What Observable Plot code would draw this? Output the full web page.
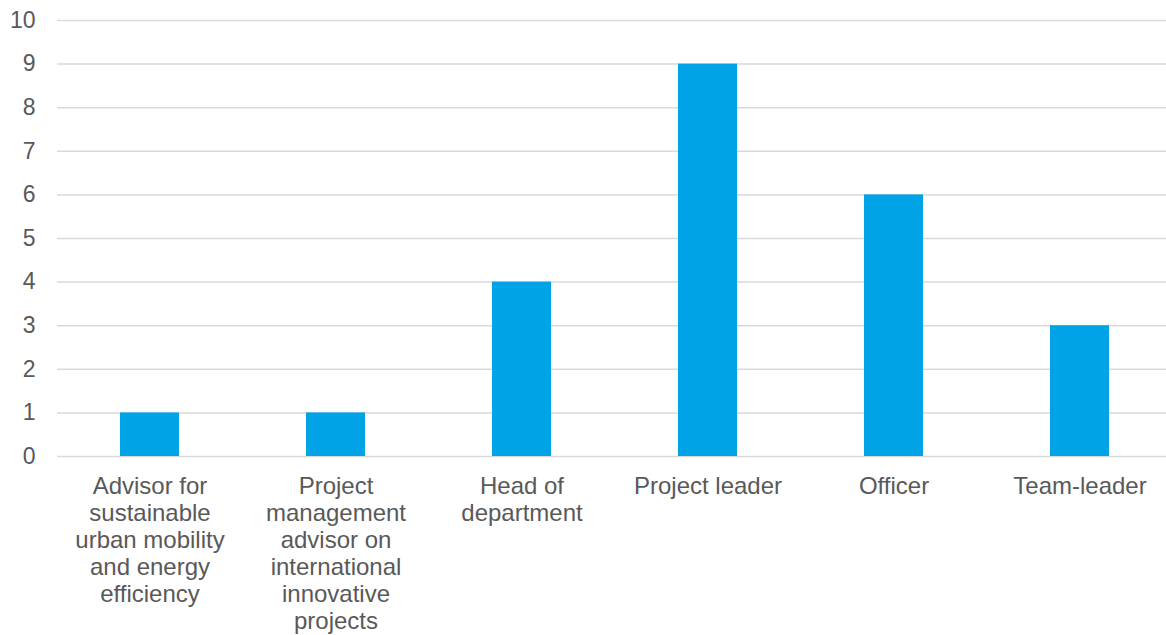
<!DOCTYPE html>
<html>
<head>
<meta charset="utf-8">
<script src="https://cdn.jsdelivr.net/npm/d3@7"></script>
<script src="https://cdn.jsdelivr.net/npm/@observablehq/plot@0.6"></script>
<style>
  html, body { margin: 0; padding: 0; background: #fff; }
  #chart svg { display: block; }
</style>
</head>
<body>
<div id="chart"></div>
<script>
const categories = [
  "Advisor for\nsustainable\nurban mobility\nand energy\nefficiency",
  "Project\nmanagement\nadvisor on\ninternational\ninnovative\nprojects",
  "Head of\ndepartment",
  "Project leader",
  "Officer",
  "Team-leader"
];
const values = [1, 1, 4, 9, 6, 3];
const yTicks = [0, 1, 2, 3, 4, 5, 6, 7, 8, 9, 10];

const data = categories.map((c, i) => ({category: c, value: values[i]}));

const chart = Plot.plot({
  width: 1166,
  height: 635,
  marginLeft: 57,
  marginRight: 0,
  marginTop: 20,
  marginBottom: 179,
  style: {fontFamily: "'Liberation Sans', Arial, sans-serif", background: "#fff"},
  x: {domain: categories, range: [56.5, 1172.5], paddingInner: 0.683, paddingOuter: 0.3415, label: null},
  y: {domain: [0, 10], label: null},
  marks: [
    Plot.ruleY(yTicks, {stroke: "#d9d9d9", strokeWidth: 1.5}),
    Plot.barY(data, {x: "category", y: "value", fill: "#00A3E6"}),
    Plot.axisY(yTicks, {tickSize: 0, tickPadding: 22, fontSize: 23, fill: "#595959", label: null}),
    Plot.axisX({tickSize: 0, tickPadding: 18, fontSize: 24, fill: "#595959", lineHeight: 1.13, label: null, lineWidth: Infinity})
  ]
});
document.getElementById("chart").appendChild(chart);
</script>
</body>
</html>
